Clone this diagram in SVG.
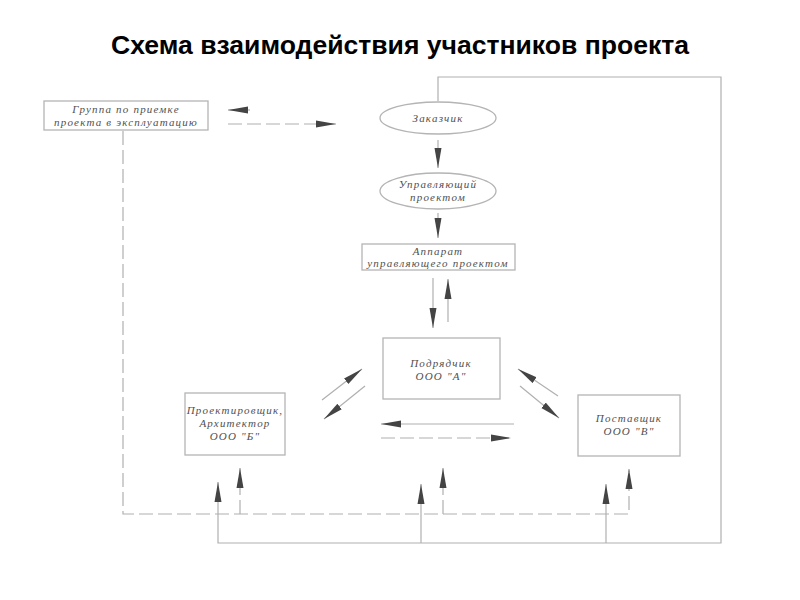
<svg xmlns="http://www.w3.org/2000/svg" width="800" height="600" viewBox="0 0 800 600">
<style>
.ttl{font-family:"Liberation Sans",Arial,sans-serif;font-weight:bold;font-size:25px;fill:#000}
.lbl{font-family:"Liberation Serif","Times New Roman",serif;font-style:italic;font-size:11px;fill:#505050;letter-spacing:1.2px}
.box{fill:#fff;stroke:#b4b4b4;stroke-width:1.3}
.ln{fill:none;stroke:#b0b0b0;stroke-width:1.2}
.ds{fill:none;stroke:#b0b0b0;stroke-width:1.2;stroke-dasharray:14 5}
</style>
<defs>
<marker id="ah" markerUnits="userSpaceOnUse" markerWidth="22" markerHeight="10" refX="20" refY="4" orient="auto">
<path d="M0,0.5 L20,4 L0,7.5 z" fill="#444"/>
</marker>
</defs>
<rect width="800" height="600" fill="#fff"/>
<text class="ttl" x="400" y="54" text-anchor="middle" textLength="578" lengthAdjust="spacingAndGlyphs">Схема взаимодействия участников проекта</text>

<g id="connectors">
<polyline class="ln" points="438,101 438,77 721,77 721,543 218,543 218,482" marker-end="url(#ah)"/>
<line class="ln" x1="421" y1="543" x2="421" y2="484" marker-end="url(#ah)"/>
<line class="ln" x1="606" y1="543" x2="606" y2="484" marker-end="url(#ah)"/>
<polyline class="ds" points="123,131 123,514 629,514 629,469" marker-end="url(#ah)"/>
<line class="ds" x1="240" y1="514" x2="240" y2="468" marker-end="url(#ah)"/>
<line class="ds" x1="443" y1="514" x2="443" y2="468" marker-end="url(#ah)"/>
<line class="ln" x1="250" y1="110" x2="228" y2="110" marker-end="url(#ah)"/>
<line class="ds" x1="228" y1="124" x2="336" y2="124" marker-end="url(#ah)"/>
<line class="ln" x1="438" y1="140" x2="438" y2="168" marker-end="url(#ah)"/>
<line class="ln" x1="438" y1="213" x2="438" y2="238" marker-end="url(#ah)"/>
<line class="ln" x1="433" y1="278" x2="433" y2="328" marker-end="url(#ah)"/>
<line class="ln" x1="448" y1="322" x2="448" y2="279" marker-end="url(#ah)"/>
<line class="ln" x1="322" y1="400" x2="362" y2="369" marker-end="url(#ah)"/>
<line class="ln" x1="365" y1="386" x2="324" y2="419" marker-end="url(#ah)"/>
<line class="ln" x1="514" y1="424" x2="381" y2="424" marker-end="url(#ah)"/>
<line class="ds" x1="381" y1="438" x2="511" y2="438" marker-end="url(#ah)"/>
<line class="ln" x1="558" y1="396" x2="518" y2="369" marker-end="url(#ah)"/>
<line class="ln" x1="520" y1="386" x2="559" y2="418" marker-end="url(#ah)"/>
</g>

<g id="group">
<rect class="box" x="44" y="101" width="164" height="29"/>
<text class="lbl" x="126" y="113" text-anchor="middle">Группа по приемке</text>
<text class="lbl" x="126" y="126" text-anchor="middle">проекта в эксплуатацию</text>
</g>
<g id="customer">
<ellipse class="box" cx="438" cy="118" rx="58" ry="16"/>
<text class="lbl" x="438" y="122" text-anchor="middle">Заказчик</text>
</g>
<g id="manager">
<ellipse class="box" cx="438" cy="191" rx="58" ry="18"/>
<text class="lbl" x="438" y="188" text-anchor="middle">Управляющий</text>
<text class="lbl" x="438" y="201" text-anchor="middle">проектом</text>
</g>
<g id="apparatus">
<rect class="box" x="362" y="244" width="153" height="26"/>
<text class="lbl" x="438" y="255" text-anchor="middle">Аппарат</text>
<text class="lbl" x="438" y="267" text-anchor="middle">управляющего проектом</text>
</g>
<g id="contractor">
<rect class="box" x="383" y="338" width="117" height="61"/>
<text class="lbl" x="441" y="367" text-anchor="middle">Подрядчик</text>
<text class="lbl" x="441" y="380" text-anchor="middle">ООО "А"</text>
</g>
<g id="designer">
<rect class="box" x="185" y="393" width="100" height="62"/>
<text class="lbl" x="235" y="414" text-anchor="middle">Проектировщик,</text>
<text class="lbl" x="235" y="427" text-anchor="middle">Архитектор</text>
<text class="lbl" x="235" y="440" text-anchor="middle">ООО "Б"</text>
</g>
<g id="supplier">
<rect class="box" x="578" y="395" width="102" height="61"/>
<text class="lbl" x="629" y="422" text-anchor="middle">Поставщик</text>
<text class="lbl" x="629" y="435" text-anchor="middle">ООО "В"</text>
</g>
</svg>
